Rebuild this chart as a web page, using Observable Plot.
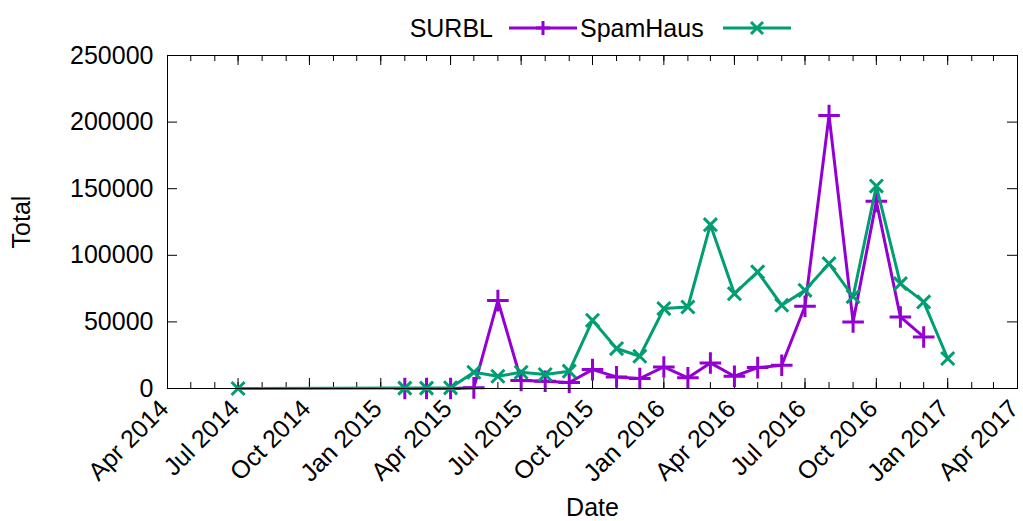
<!DOCTYPE html>
<html>
<head>
<meta charset="utf-8">
<script src="https://cdn.jsdelivr.net/npm/d3@7"></script>
<script src="https://cdn.jsdelivr.net/npm/@observablehq/plot@0.6"></script>
<style>
  body { margin: 0; background: #fff; font-family: "Liberation Sans", Arial, sans-serif; }
  #legend { position: relative; width: 1023px; height: 35px; font-size: 25px; color: #000; }
  #legend .lbl { position: absolute; top: 14px; line-height: 28px; white-space: nowrap; }
  #legend svg { position: absolute; top: 18px; }
  #chart svg { display: block; }
</style>
</head>
<body>
<div id="legend"></div>
<div id="chart"></div>
<script>
// ---- data ----
const seriesNames = ["SURBL", "SpamHaus"];
const seriesColors = ["#9400d3", "#009e73"];

const surblMonths = ["2015-02","2015-03","2015-04","2015-05","2015-06","2015-07","2015-08","2015-09",
  "2015-10","2015-11","2015-12","2016-01","2016-02","2016-03","2016-04","2016-05","2016-06",
  "2016-07","2016-08","2016-09","2016-10","2016-11","2016-12"];
const surblValues = [0, 0, 0, 500, 66000, 6000, 5500, 4500,
  14200, 8700, 7500, 16200, 8000, 19200, 9200, 15700, 17500,
  61700, 205000, 50000, 140500, 53700, 38700];

const spamMonths = ["2014-07","2015-02","2015-03","2015-04","2015-05","2015-06","2015-07","2015-08","2015-09",
  "2015-10","2015-11","2015-12","2016-01","2016-02","2016-03","2016-04","2016-05","2016-06",
  "2016-07","2016-08","2016-09","2016-10","2016-11","2016-12","2017-01"];
const spamValues = [0, 300, 300, 500, 12200, 9200, 12200, 10500, 13000,
  51200, 30000, 24200, 60000, 61200, 123000, 71200, 87500, 62500,
  73700, 93700, 69000, 152000, 78700, 65000, 22500];

const yTicks = [0, 50000, 100000, 150000, 200000, 250000];
const xTickLabels = ["Apr 2014","Jul 2014","Oct 2014","Jan 2015","Apr 2015","Jul 2015","Oct 2015",
  "Jan 2016","Apr 2016","Jul 2016","Oct 2016","Jan 2017","Apr 2017"];

// ---- build ----
const parseM = d3.utcParse("%Y-%m");
const parseT = d3.utcParse("%b %Y");
const surbl = surblMonths.map((m, i) => ({date: parseM(m), value: surblValues[i]}));
const spam = spamMonths.map((m, i) => ({date: parseM(m), value: spamValues[i]}));
const xTicks = xTickLabels.map(parseT);
const minorTicks = d3.utcMonth.range(xTicks[0], d3.utcDay.offset(xTicks[xTicks.length - 1], 1));

const W = 1023, H = 486, mt = 20, mb = 133, ml = 167, mr = 6;
const plotH = H - mt - mb, plotW = W - ml - mr;
const font = "Liberation Sans, Arial, sans-serif";

const chart = Plot.plot({
  width: W, height: H,
  marginTop: mt, marginBottom: mb, marginLeft: ml, marginRight: mr,
  style: {fontFamily: font, fontSize: "25px", color: "#000", background: "#fff", overflow: "visible"},
  x: {type: "utc", domain: [xTicks[0], xTicks[xTicks.length - 1]]},
  y: {domain: [0, 250000]},
  marks: [
    Plot.tickX(minorTicks, {x: d => d, insetTop: plotH - 6, stroke: "#000"}),
    Plot.tickX(minorTicks, {x: d => d, insetBottom: plotH - 6, stroke: "#000"}),
    Plot.tickX(xTicks, {x: d => d, insetTop: plotH - 10, stroke: "#000"}),
    Plot.tickX(xTicks, {x: d => d, insetBottom: plotH - 10, stroke: "#000"}),
    Plot.tickY(yTicks, {y: d => d, insetRight: plotW - 10, stroke: "#000"}),
    Plot.tickY(yTicks, {y: d => d, insetLeft: plotW - 10, stroke: "#000"}),
    Plot.axisY({ticks: yTicks, tickSize: 0, tickPadding: 14, tickFormat: d => String(d),
      fontSize: 25, label: "Total", labelAnchor: "center", labelArrow: "none", labelOffset: 155}),
    Plot.axisX({ticks: xTicks, tickSize: 0, tickPadding: 16, tickRotate: -45, dx: -3,
      tickFormat: (d, i) => xTickLabels[i], fontSize: 25, label: null}),
    Plot.axisX({ticks: [], tickSize: 0, label: "Date", labelAnchor: "center", labelArrow: "none",
      labelOffset: 127, fontSize: 25}),
    Plot.line(surbl, {x: "date", y: "value", stroke: seriesColors[0], strokeWidth: 3}),
    Plot.dot(surbl, {x: "date", y: "value", symbol: "plus", r: 7, stroke: seriesColors[0], strokeWidth: 3}),
    Plot.line(spam, {x: "date", y: "value", stroke: seriesColors[1], strokeWidth: 3}),
    Plot.dot(spam, {x: "date", y: "value", symbol: "times", r: 6, stroke: seriesColors[1], strokeWidth: 3}),
    Plot.frame({stroke: "#000", strokeWidth: 1})
  ]
});
document.getElementById("chart").appendChild(chart);

// ---- legend ----
const legend = d3.select("#legend");
const legendLayout = [
  {textRight: 493, lineLeft: 509, symbol: "plus"},
  {textLeft: 580, lineLeft: 723, symbol: "times"}
];
seriesNames.forEach((name, i) => {
  const L = legendLayout[i];
  const s = legend.append("span").attr("class", "lbl").text(name);
  if (L.textRight != null) s.style("right", (1023 - L.textRight) + "px");
  else s.style("left", L.textLeft + "px");
  const svg = legend.append("svg").attr("width", 70).attr("height", 20).style("left", L.lineLeft + "px");
  svg.append("line").attr("x1", 0).attr("x2", 68).attr("y1", 10).attr("y2", 10)
    .attr("stroke", seriesColors[i]).attr("stroke-width", 3);
  svg.append("path").attr("transform", "translate(34,10)")
    .attr("d", L.symbol === "plus" ? "M-7,0H7M0,-7V7" : "M-6,-6L6,6M-6,6L6,-6")
    .attr("stroke", seriesColors[i]).attr("stroke-width", 3).attr("fill", "none");
});
</script>
</body>
</html>
